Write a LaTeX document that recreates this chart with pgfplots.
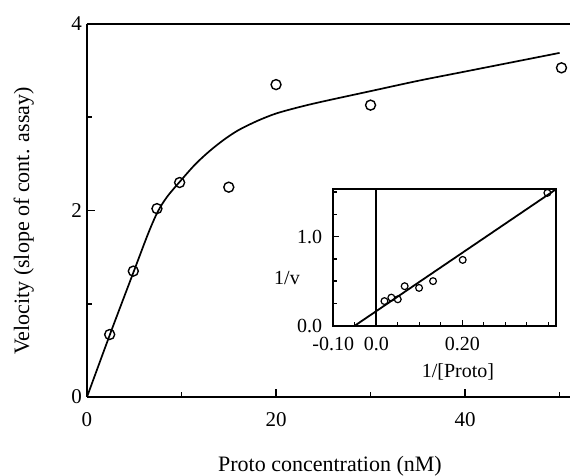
\documentclass[border=0pt]{standalone}
\usepackage{fontspec}
\setmainfont{Liberation Serif}
\usepackage{pgfplots}
\pgfplotsset{compat=1.18}

\begin{document}
\begin{tikzpicture}
\useasboundingbox (-43.5pt,-39.5pt) rectangle (241.5pt,198.5pt);

% main plot
\begin{axis}[
    at={(0,0)}, anchor=south west,
    scale only axis,
    width=241.5pt, height=186.5pt,
    xmin=0, xmax=51.1,
    ymin=0, ymax=4,
    axis lines*=left,
    axis line style={line width=0.9pt},
    tick align=inside,
    major tick length=4pt,
    minor tick length=2.5pt,
    tick style={line width=0.8pt, black},
    xtick={0,20,40}, xticklabels={0,20,40},
    minor xtick={10,30,50},
    ytick={0,2,4}, yticklabels={0,2,4},
    minor ytick={1,3},
    ticklabel style={font=\fontsize{10.5}{12}\selectfont},
    xticklabel style={yshift=-4pt},
    yticklabel style={xshift=1pt},
    /pgf/number format/assume math mode=true,
    xlabel={Proto concentration (nM)},
    ylabel={Velocity (slope of cont. assay)},
    label style={font=\fontsize{11}{13}\selectfont},
    xlabel style={at={(axis description cs:0.503,-0.185)}, anchor=center},
    ylabel style={at={(axis description cs:-0.131,0.472)}, anchor=center},
    clip=false,
]
\draw[line width=0.9pt] (rel axis cs:0,1) -- (rel axis cs:1,1);

% fitted curve
\addplot[black, line width=0.85pt, smooth] coordinates {
    (0,0)(2.5,0.69)(5,1.36)(6.5,1.76)(7.5,1.99)(8.5,2.15)(10,2.33)
    (11.5,2.50)(13,2.64)(14.5,2.76)(16,2.86)(18,2.96)(20,3.04)
    (22.5,3.11)(25,3.17)(30,3.28)(35,3.39)(40,3.49)(45,3.59)(50,3.69)
};

% measured points
\addplot[only marks, mark=o, mark size=2.5pt, mark options={line width=0.7pt}] coordinates {
    (2.4,0.67)(4.9,1.35)(7.4,2.02)(9.8,2.30)(15,2.25)
    (20,3.35)(30,3.13)(50.2,3.53)
};
\end{axis}

% inset: double reciprocal plot
\begin{axis}[
    at={(123.15pt,35.65pt)}, anchor=south west,
    scale only axis,
    width=111.35pt, height=68.2pt,
    xmin=-0.10, xmax=0.418,
    ymin=0, ymax=1.53,
    axis line style={line width=0.9pt},
    tick align=inside,
    major tick length=3pt,
    minor tick length=2pt,
    tick style={line width=0.7pt, black},
    xtick={-0.10,0,0.20}, xticklabels={-0.10,0.0,0.20},
    minor xtick={-0.05,0.05,0.10,0.15,0.25,0.30,0.35,0.40},
    ytick={0,1}, yticklabels={0.0,1.0},
    minor ytick={0.25,0.5,0.75,1.25,1.5},
    xtick pos=bottom, ytick pos=left,
    ticklabel style={font=\fontsize{10}{12}\selectfont},
    xticklabel style={yshift=-2pt},
    yticklabel style={xshift=-2pt},
    /pgf/number format/assume math mode=true,
    xlabel={1/[Proto]},
    ylabel={1/v},
    label style={font=\fontsize{10}{12}\selectfont},
    xlabel style={at={(axis description cs:0.56,-0.34)}, anchor=center},
    ylabel style={at={(axis description cs:-0.208,0.35)}, anchor=center, rotate=-90},
    clip=false,
]
\addplot[black, line width=0.9pt] coordinates {(0,0)(0,1.53)};
\addplot[black, line width=0.9pt] coordinates {(-0.05,0)(0.418,1.53)};
\addplot[only marks, mark=o, mark size=1.7pt, mark options={line width=0.6pt}] coordinates {
    (0.019,0.276)(0.035,0.315)(0.050,0.296)(0.066,0.443)
    (0.0995,0.424)(0.132,0.50)(0.201,0.738)(0.398,1.49)
};
\end{axis}
\end{tikzpicture}
\end{document}
